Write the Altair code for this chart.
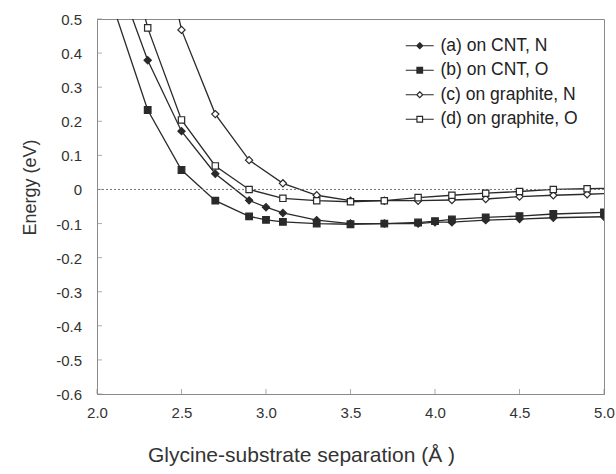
import altair as alt
import pandas as pd

# ---- data ----
labels = ["(a) on CNT, N", "(b) on CNT, O", "(c) on graphite, N", "(d) on graphite, O"]

x_a = [2.1, 2.3, 2.5, 2.7, 2.9, 3.0, 3.1, 3.3, 3.5, 3.7, 3.9, 4.0, 4.1, 4.3, 4.5, 4.7, 5.0]
y_a = [0.65, 0.379, 0.171, 0.046, -0.032, -0.052, -0.069, -0.090, -0.100, -0.100, -0.100,
       -0.096, -0.096, -0.090, -0.087, -0.083, -0.080]

x_b = [2.1, 2.3, 2.5, 2.7, 2.9, 3.0, 3.1, 3.3, 3.5, 3.7, 3.9, 4.0, 4.1, 4.3, 4.5, 4.7, 5.0]
y_b = [0.53, 0.233, 0.057, -0.033, -0.079, -0.089, -0.095, -0.100, -0.102, -0.100, -0.097,
       -0.093, -0.088, -0.082, -0.078, -0.072, -0.067]

x_c = [2.3, 2.5, 2.7, 2.9, 3.1, 3.3, 3.5, 3.7, 3.9, 4.1, 4.3, 4.5, 4.7, 4.9, 5.1]
y_c = [0.93, 0.468, 0.221, 0.086, 0.018, -0.017, -0.033, -0.033, -0.033, -0.031, -0.028,
       -0.021, -0.017, -0.014, -0.011]

x_d = [2.1, 2.3, 2.5, 2.7, 2.9, 3.1, 3.3, 3.5, 3.7, 3.9, 4.1, 4.3, 4.5, 4.7, 4.9, 5.1]
y_d = [0.87, 0.474, 0.204, 0.069, 0.0, -0.026, -0.033, -0.036, -0.033, -0.024, -0.017,
       -0.011, -0.006, 0.0, 0.002, 0.004]

x_ticks = [2.0, 2.5, 3.0, 3.5, 4.0, 4.5, 5.0]
y_ticks = [-0.6, -0.5, -0.4, -0.3, -0.2, -0.1, 0.0, 0.1, 0.2, 0.3, 0.4, 0.5]
y_tick_labels = ["-0.6", "-0.5", "-0.4", "-0.3", "-0.2", "-0.1", "0",
                 "0.1", "0.2", "0.3", "0.4", "0.5"]
zero_line = [0.0]

# ---- build table ----
rows = []
for lab, xs, ys in zip(labels, [x_a, x_b, x_c, x_d], [y_a, y_b, y_c, y_d]):
    for xv, yv in zip(xs, ys):
        rows.append({"series": lab, "x": xv, "y": yv})
df = pd.DataFrame(rows)

INK = "#2a2a2a"
AXIS = "#8a8a8a"
TXT = "#333333"
FONT = "Liberation Sans"

xscale = alt.Scale(domain=[2.0, 5.0], nice=False, zero=False)
yscale = alt.Scale(domain=[-0.6, 0.5], nice=False, zero=False)

xaxis = alt.Axis(values=x_ticks, format=".1f", ticks=False, grid=False,
                 domainColor=AXIS, labelFontSize=15, labelColor=TXT, labelFont=FONT,
                 labelPadding=11, labelFlush=False, labelOverlap=False,
                 title="Glycine-substrate separation (Å )", titleFont=FONT,
                 titleFontSize=21, titleFontWeight="normal", titleColor=TXT,
                 titleX=204, titleY=61, titleBaseline="middle", titleAnchor="middle")
yaxis = alt.Axis(values=y_ticks, ticks=False, grid=False, domainColor=AXIS,
                 labels=False,
                 title="Energy (eV)", titleFont=FONT, titleFontSize=18,
                 titleFontWeight="normal", titleColor=TXT,
                 titleX=-67, titleY=168, titleBaseline="middle", titleAngle=-90)


def X(field):
    return alt.X(field, type="quantitative", scale=xscale, axis=xaxis)


def Y(field):
    return alt.Y(field, type="quantitative", scale=yscale, axis=yaxis)


base = alt.Chart(df)

lines = base.mark_line(color=INK, strokeWidth=1.3, clip=True).encode(
    x=X("x"), y=Y("y"), detail="series:N", order="x:Q",
)

marker_styles = [
    ("diamond", INK, 52),
    ("square", INK, 44),
    ("diamond", "white", 52),
    ("square", "white", 40),
]
point_layers = []
for lab, (shp, fill, size) in zip(labels, marker_styles):
    point_layers.append(
        base.transform_filter(alt.datum.series == lab).mark_point(
            shape=shp, filled=True, fill=fill, stroke=INK, strokeWidth=1.2,
            size=size, opacity=1, clip=True
        ).encode(x=X("x"), y=Y("y"))
    )

zero = alt.Chart(pd.DataFrame({"y0": zero_line})).mark_rule(
    color="#777", strokeDash=[2, 2], strokeWidth=1
).encode(y=Y("y0"))

xt = alt.Chart(pd.DataFrame({"t": x_ticks})).mark_tick(
    color=AXIS, size=5, thickness=1, yOffset=-2.5, orient="vertical"
).encode(x=X("t"), y=alt.datum(-0.6))

ytdf = pd.DataFrame({"t": y_ticks, "lab": y_tick_labels})
yt = alt.Chart(ytdf).mark_tick(
    color=AXIS, size=5, thickness=1, xOffset=2.5, orient="horizontal"
).encode(y=Y("t"), x=alt.datum(2.0))

ylabels = alt.Chart(ytdf).mark_text(
    align="right", baseline="middle", dx=-15, dy=1, fontSize=15, font=FONT, color=TXT
).encode(y=Y("t"), x=alt.datum(2.0), text="lab:N")

# legend symbols: line segment with a marker in the middle
leg_diamond = "M-2,0L-0.43,0M0.43,0L2,0M0,-0.43L0.43,0L0,0.43L-0.43,0Z"
leg_square = "M-2,0L-0.4,0M0.4,0L2,0M-0.4,-0.4L0.4,-0.4L0.4,0.4L-0.4,0.4Z"
leg_paths = [leg_diamond, leg_square, leg_diamond, leg_square]
leg_fills = [INK, INK, "white", "white"]
leg_strokes = [INK, INK, INK, INK]

legend = alt.Legend(title=None, orient="none", legendX=314, legendY=18,
                    symbolSize=196, symbolStrokeWidth=1.2, labelFont=FONT,
                    labelFontSize=17.5, labelColor="#222", labelOffset=12,
                    rowPadding=5.5, symbolOpacity=1)

legend_layer = base.transform_filter(alt.datum.x < 0).mark_point(
    filled=True, strokeWidth=1.2, opacity=1
).encode(
    x=X("x"), y=Y("y"),
    shape=alt.Shape("series:N", scale=alt.Scale(domain=labels, range=leg_paths),
                    legend=legend),
    fill=alt.Fill("series:N", scale=alt.Scale(domain=labels, range=leg_fills),
                  legend=legend),
    stroke=alt.Stroke("series:N", scale=alt.Scale(domain=labels, range=leg_strokes),
                      legend=legend),
)

chart = alt.layer(lines, zero, xt, yt, ylabels, *point_layers, legend_layer).properties(
    width=507, height=375,
    autosize=alt.AutoSizeParams(type="none"),
    padding={"left": 97, "top": 19, "right": 12, "bottom": 80},
    background="white",
).configure_view(stroke=AXIS, strokeWidth=1)

chart.save("out.html", embed_options={"renderer": "svg", "actions": False})
